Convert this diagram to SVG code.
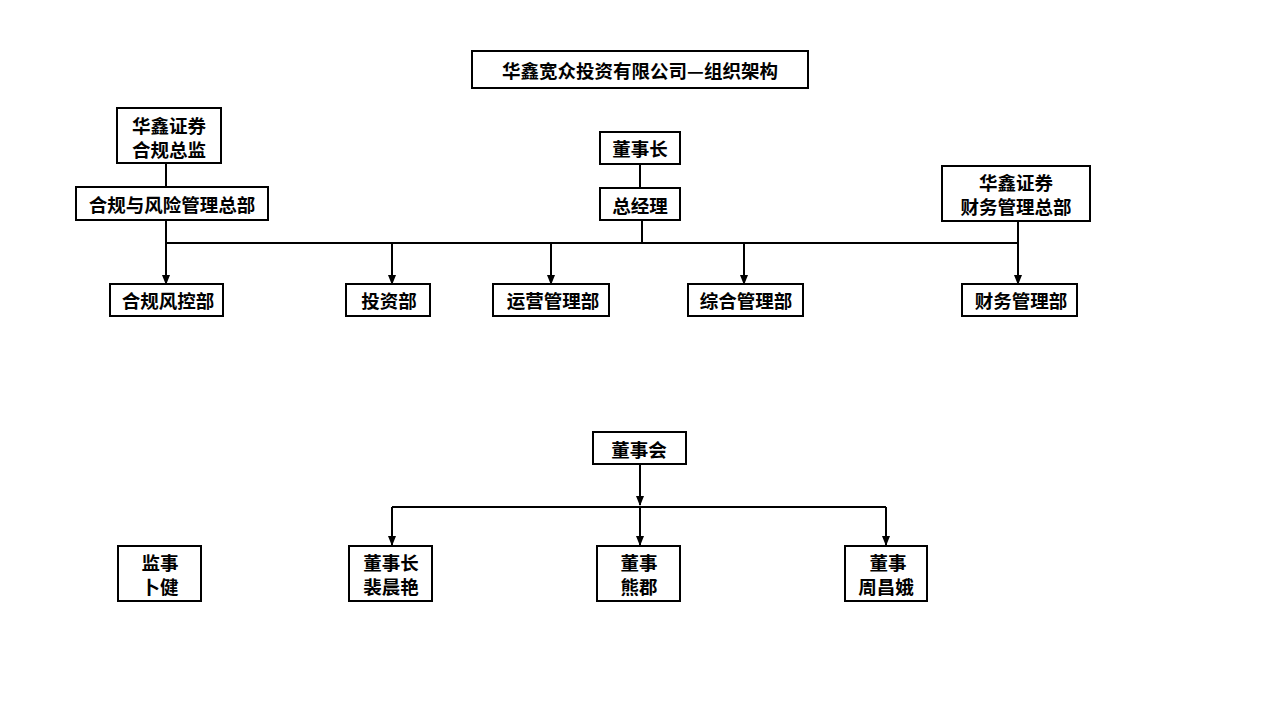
<svg xmlns="http://www.w3.org/2000/svg" width="1280" height="720" viewBox="0 0 1280 720">
<style>
.box{fill:#fff;stroke:#000;stroke-width:2}
.t{font-family:"Noto Sans CJK SC","Noto Sans",sans-serif;font-size:18.5px;font-weight:bold;fill:#000;text-anchor:middle;dominant-baseline:central}
.ln{fill:none;stroke:#000;stroke-width:2}
</style>
<defs>
<marker id="ar" markerWidth="10" markerHeight="10" refX="9" refY="5" orient="auto" markerUnits="userSpaceOnUse">
<path d="M0,1 L10,5 L0,9 Z" fill="#000"/>
</marker>
</defs>
<rect width="1280" height="720" fill="#fff"/>
<g id="connectors">
<line class="ln" x1="166" y1="163" x2="166" y2="187"/>
<line class="ln" x1="640" y1="164" x2="640" y2="188"/>
<line class="ln" x1="642" y1="220" x2="642" y2="243"/>
<line class="ln" x1="166" y1="243" x2="1018" y2="243"/>
<line class="ln" x1="166" y1="220" x2="166" y2="284" marker-end="url(#ar)"/>
<line class="ln" x1="392" y1="243" x2="392" y2="284" marker-end="url(#ar)"/>
<line class="ln" x1="551" y1="243" x2="551" y2="284" marker-end="url(#ar)"/>
<line class="ln" x1="744" y1="243" x2="744" y2="284" marker-end="url(#ar)"/>
<line class="ln" x1="1018" y1="221" x2="1018" y2="284" marker-end="url(#ar)"/>
<line class="ln" x1="640" y1="464" x2="640" y2="505" marker-end="url(#ar)"/>
<line class="ln" x1="392" y1="507" x2="886" y2="507"/>
<line class="ln" x1="392" y1="507" x2="392" y2="545" marker-end="url(#ar)"/>
<line class="ln" x1="640" y1="507" x2="640" y2="545" marker-end="url(#ar)"/>
<line class="ln" x1="886" y1="507" x2="886" y2="545" marker-end="url(#ar)"/>
</g>
<g id="title"><rect class="box" x="472" y="51" width="336" height="37"/><text class="t" x="640" y="70">华鑫宽众投资有限公司—组织架构</text></g>
<g id="compliance-director"><rect class="box" x="117" y="108" width="104" height="55"/><text class="t" x="169" y="125">华鑫证券</text><text class="t" x="169" y="149">合规总监</text></g>
<g id="compliance-hq"><rect class="box" x="76" y="187" width="192" height="33"/><text class="t" x="172" y="204">合规与风险管理总部</text></g>
<g id="chairman"><rect class="box" x="600" y="132" width="80" height="32"/><text class="t" x="640" y="148">董事长</text></g>
<g id="gm"><rect class="box" x="600" y="188" width="80" height="32"/><text class="t" x="640" y="205">总经理</text></g>
<g id="finance-hq"><rect class="box" x="942" y="166" width="148" height="55"/><text class="t" x="1016" y="182">华鑫证券</text><text class="t" x="1016" y="206">财务管理总部</text></g>
<g id="risk"><rect class="box" x="110" y="284" width="113" height="32"/><text class="t" x="168" y="300">合规风控部</text></g>
<g id="invest"><rect class="box" x="346" y="284" width="84" height="32"/><text class="t" x="389" y="300">投资部</text></g>
<g id="ops"><rect class="box" x="493" y="284" width="116" height="32"/><text class="t" x="553" y="300">运营管理部</text></g>
<g id="admin"><rect class="box" x="688" y="284" width="115" height="32"/><text class="t" x="746" y="300">综合管理部</text></g>
<g id="finance"><rect class="box" x="962" y="284" width="115" height="32"/><text class="t" x="1021" y="300">财务管理部</text></g>
<g id="board"><rect class="box" x="593" y="432" width="93" height="32"/><text class="t" x="639" y="449">董事会</text></g>
<g id="supervisor"><rect class="box" x="118" y="546" width="83" height="55"/><text class="t" x="160" y="562">监事</text><text class="t" x="160" y="586">卜健</text></g>
<g id="chair2"><rect class="box" x="349" y="546" width="83" height="55"/><text class="t" x="391" y="562">董事长</text><text class="t" x="391" y="586">裴晨艳</text></g>
<g id="director1"><rect class="box" x="597" y="546" width="83" height="55"/><text class="t" x="639" y="562">董事</text><text class="t" x="639" y="586">熊郡</text></g>
<g id="director2"><rect class="box" x="845" y="546" width="82" height="55"/><text class="t" x="888" y="562">董事</text><text class="t" x="886" y="586">周昌娥</text></g>
</svg>
